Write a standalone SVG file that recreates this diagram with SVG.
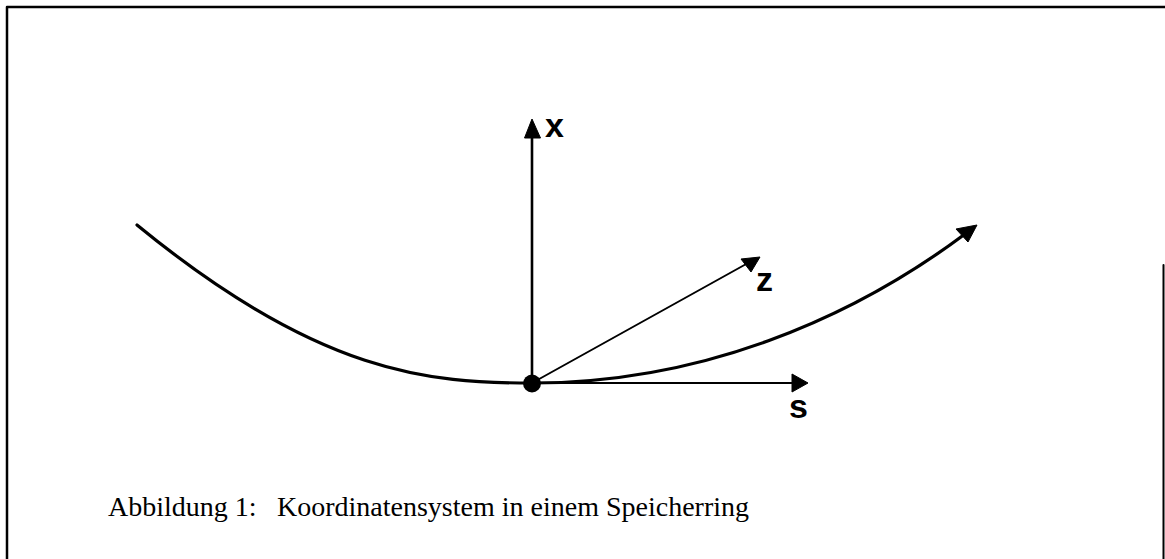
<svg xmlns="http://www.w3.org/2000/svg" width="1165" height="559" viewBox="0 0 1165 559">
  <style>
    .ln { fill: none; stroke: #000; stroke-linecap: round; stroke-linejoin: round; }
    .hd { fill: #000; stroke: #000; stroke-width: 1; stroke-linejoin: round; }
    .lbl { font-family: "Liberation Sans", Arial, sans-serif; font-weight: bold; font-size: 34px; fill: #000; }
    .cap { font-family: "Liberation Serif", "Times New Roman", serif; font-size: 28px; fill: #000; }
  </style>
  <rect x="0" y="0" width="1165" height="559" fill="#fff"/>
  <g id="frame">
    <path class="ln" d="M7,560 L7,7 L1166,7" stroke-width="2.5"/>
    <path class="ln" d="M1163.5,265 L1163.5,560" stroke-width="2"/>
  </g>
  <g id="connectors">
    <path id="orbit" class="ln" stroke-width="3.2" d="M137,225 C 320,375 430,383 532,383 C 700,383 850,320 965,234"/>
    <polygon class="hd" points="977,225 956,229 968,242"/>
    <line id="axis-x" class="ln" stroke-width="2.6" x1="532" y1="383" x2="532" y2="134"/>
    <polygon class="hd" points="532,119 524.5,138 540.5,138"/>
    <line id="axis-z" class="ln" stroke-width="2" x1="532" y1="383" x2="748" y2="263"/>
    <polygon class="hd" points="760,257 741,259 751,272"/>
    <line id="axis-s" class="ln" stroke-width="2" x1="532" y1="383" x2="796" y2="383"/>
    <polygon class="hd" points="808,383 792,374 792,392"/>
  </g>
  <g id="origin">
    <circle cx="532" cy="383.5" r="9" fill="#000"/>
  </g>
  <g id="labels">
    <text class="lbl" x="545" y="137">x</text>
    <text class="lbl" x="756" y="291">z</text>
    <text class="lbl" x="789" y="418">s</text>
  </g>
  <g id="caption">
    <text class="cap" y="516"><tspan x="108">Abbildung 1:</tspan><tspan x="277">Koordinatensystem in einem Speicherring</tspan></text>
  </g>
</svg>
